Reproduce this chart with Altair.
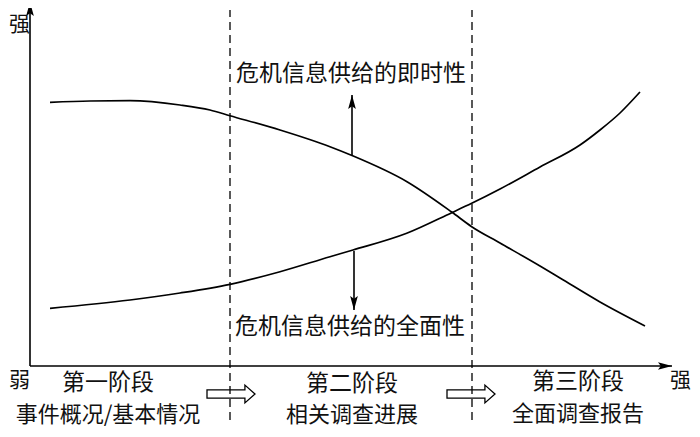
import altair as alt
import pandas as pd

# Conceptual coordinates: x = progress along the event, y = strength (origin at axis corner)
X_DOMAIN = [-22, 662]
Y_DOMAIN = [-63, 358]

# Curve 1: 危机信息供给的即时性 (decreasing)
timely_x = [20, 60, 100, 150, 180, 200, 250, 300, 322, 377, 421.7, 441.7, 470, 510, 530, 570, 615]
timely_y = [263.7, 265, 265.3, 261, 256, 250.3, 236, 219.3, 210.5, 184.3, 154, 139.3, 123, 100, 88, 64, 40]

# Curve 2: 危机信息供给的全面性 (increasing)
compre_x = [20, 100, 150, 200, 250, 300, 323, 376.7, 421.7, 441.7, 470, 510, 550, 570, 590, 610]
compre_y = [57.7, 66, 73, 81.7, 94.3, 109.3, 116, 132.7, 153.3, 162.7, 177, 199, 221, 236, 253, 274]

# Stage boundaries (dashed)
stage_bounds = [200, 442]
dash_top, dash_bottom = 356, -54

# Axes extents
axis_x_end = 642
axis_y_end = 364

# Arrows from curves to labels
label_arrow_x = [322, 324]
label_arrow_from = [210, 115]
label_arrow_to = [271, 56]

# Centered texts
text_labels = ["危机信息供给的即时性", "危机信息供给的全面性",
               "第一阶段", "事件概况/基本情况",
               "第二阶段", "相关调查进展",
               "第三阶段", "全面调查报告"]
text_x = [321, 320, 78, 78, 322, 322, 548, 548]
text_y = [292, 39, -17, -49, -18, -49, -16, -48]
text_size = [23, 23, 23, 22, 23, 22, 23, 22]

# Axis end labels (strong / weak)
end_labels = ["强", "弱", "强"]
end_x = [-21, -21, 640]
end_y = [341, -15, -15]

# Hollow stage-transition arrows
stage_arrow_x = [201, 441]
stage_arrow_y = [-28, -28]

xs = alt.Scale(domain=X_DOMAIN, nice=False, zero=False)
ys = alt.Scale(domain=Y_DOMAIN, nice=False, zero=False)

curves = pd.DataFrame({
    "x": timely_x + compre_x,
    "y": timely_y + compre_y,
    "series": ["即时性"] * len(timely_x) + ["全面性"] * len(compre_x),
})

rules = pd.DataFrame({
    "x": [0, 0] + label_arrow_x,
    "x2": [0, axis_x_end] + label_arrow_x,
    "y": [0, 0] + label_arrow_from,
    "y2": [axis_y_end, 0] + label_arrow_to,
})

dashes = pd.DataFrame({
    "x": stage_bounds,
    "y": [dash_bottom] * len(stage_bounds),
    "y2": [dash_top] * len(stage_bounds),
})

UP = "M0,0 L0.55,2 L0,1.6 L-0.55,2 Z"
DOWN = "M0,0 L0.55,-2 L0,-1.6 L-0.55,-2 Z"
RIGHT = "M0,0 L-2,-0.55 L-1.6,0 L-2,0.55 Z"

heads = pd.DataFrame({
    "x": [0, axis_x_end, label_arrow_x[0], label_arrow_x[1]],
    "y": [axis_y_end, 0, label_arrow_to[0], label_arrow_to[1]],
    "dir": ["up", "right", "up", "down"],
})

texts = pd.DataFrame({"x": text_x, "y": text_y, "t": text_labels, "fs": text_size})
ends = pd.DataFrame({"x": end_x, "y": end_y, "t": end_labels})
stage_arrows = pd.DataFrame({"x": stage_arrow_x, "y": stage_arrow_y})

HOLLOW = "M-1,-0.17 L0.58,-0.17 L0.58,-0.37 L1,0 L0.58,0.37 L0.58,0.17 L-1,0.17 Z"

base_x = lambda f="x": alt.X(f"{f}:Q", scale=xs, axis=None)
base_y = lambda f="y": alt.Y(f"{f}:Q", scale=ys, axis=None)

line_layer = alt.Chart(curves).mark_line(
    color="black", strokeWidth=1.7, interpolate="monotone"
).encode(x=base_x(), y=base_y(), detail="series:N")

rule_layer = alt.Chart(rules).mark_rule(color="black", strokeWidth=1.6).encode(
    x=base_x(), x2="x2:Q", y=base_y(), y2="y2:Q"
)

dash_layer = alt.Chart(dashes).mark_rule(
    color="black", strokeWidth=1.3, strokeDash=[8, 5]
).encode(x=base_x(), y=base_y(), y2="y2:Q")

head_layer = alt.Chart(heads).mark_point(
    filled=True, color="black", opacity=1, size=196
).encode(
    x=base_x(), y=base_y(),
    shape=alt.Shape("dir:N", scale=alt.Scale(domain=["up", "down", "right"],
                                             range=[UP, DOWN, RIGHT]), legend=None),
)

hollow_layer = alt.Chart(stage_arrows).mark_point(
    shape=HOLLOW, filled=False, stroke="black", strokeWidth=1.3, opacity=1, size=2304
).encode(x=base_x(), y=base_y())

text_layer = alt.Chart(texts).mark_text(
    font="Noto Sans CJK SC", color="#111111",
    align="center", baseline="middle"
).encode(x=base_x(), y=base_y(), text="t:N", size=alt.Size("fs:Q", scale=None))

end_layer = alt.Chart(ends).mark_text(
    font="Noto Sans CJK SC", fontSize=21, color="#111111",
    align="left", baseline="middle"
).encode(x=base_x(), y=base_y(), text="t:N")

chart = alt.layer(
    dash_layer, line_layer, rule_layer, head_layer, hollow_layer, text_layer, end_layer
).properties(
    width=684, height=421, padding=0, autosize="none", background="white"
).configure_view(stroke=None)

chart.save("out.html", embed_options={"renderer": "svg", "actions": False})
